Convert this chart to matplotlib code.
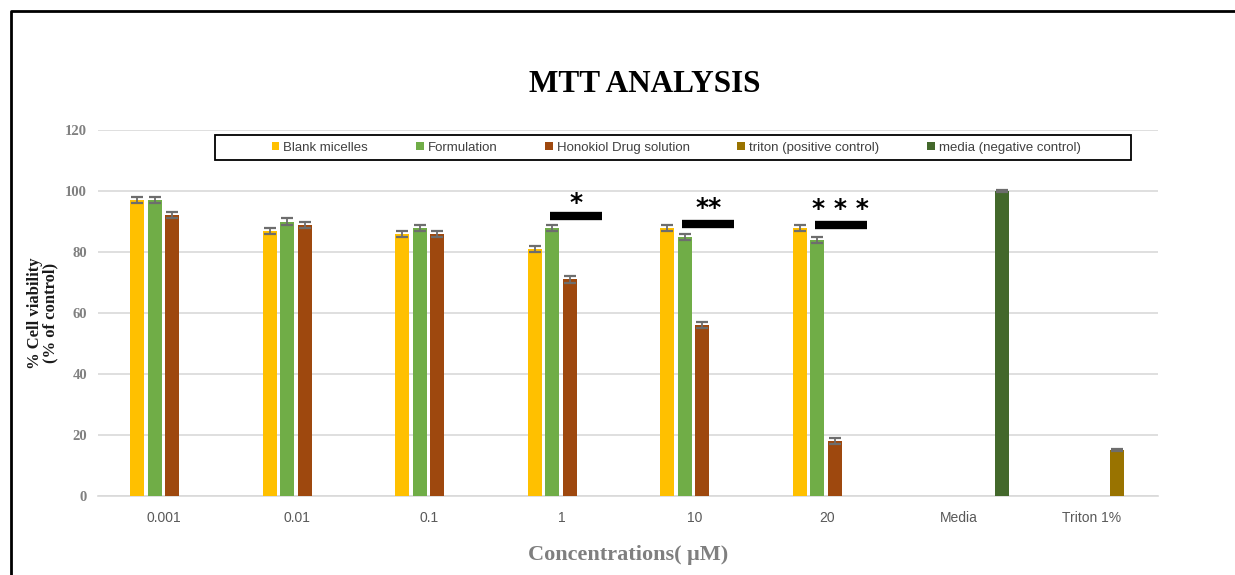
import numpy as np
import matplotlib.pyplot as plt
from matplotlib.patches import Patch, Rectangle
from matplotlib.lines import Line2D

# ===================== DADOS =====================
categorias = ['0.001', '0.01', '0.1', '1', '10', '20', 'Media', 'Triton 1%']

series = ['Blank micelles', 'Formulation', 'Honokiol Drug solution',
          'triton (positive control)', 'media (negative control)']
cores = ['#FFC000', '#70AD47', '#9E480E', '#997300', '#43682B']

blank    = [97, 87, 86, 81, 88, 88, np.nan, np.nan]
formul   = [97, 90, 88, 88, 85, 84, np.nan, np.nan]
honokiol = [92, 89, 86, 71, 56, 18, np.nan, np.nan]
triton   = [np.nan] * 7 + [15]
media    = [np.nan] * 6 + [100, np.nan]

err_blank    = [1, 1, 1, 1, 1, 1, 0, 0]
err_formul   = [1, 1, 1, 1, 1, 1, 0, 0]
err_honokiol = [1, 1, 1, 1, 1, 1, 0, 0]
err_triton   = [0] * 7 + [0.3]
err_media    = [0] * 6 + [0.3, 0]

valores = [blank, formul, honokiol, triton, media]
erros = [err_blank, err_formul, err_honokiol, err_triton, err_media]

# significancia: categoria, texto, altura da barra, altura do texto
sig_cat   = [3, 4, 5]
sig_txt   = ['*', '**', '* * *']
sig_barra = [91.8, 89.2, 88.9]
sig_y     = [96.0, 94.5, 94.0]

# ===================== FIGURA =====================
fig = plt.figure(figsize=(12.35, 5.75), dpi=100)
ax = fig.add_axes([0.0794, 0.1374, 0.8583, 0.6365])

x = np.arange(len(categorias))
larg = 0.106
passo = 0.132
desloc0 = -0.204

for i, (vals, errs) in enumerate(zip(valores, erros)):
    pos = x + desloc0 + i * passo
    ax.bar(pos, vals, width=larg, color=cores[i], edgecolor='none', zorder=3)
    ok = ~np.isnan(np.array(vals, dtype=float))
    ax.errorbar(pos[ok], np.array(vals)[ok], yerr=np.array(errs)[ok],
                fmt='none', ecolor='#6d6d6d', elinewidth=1.3,
                capsize=4, capthick=1.6, zorder=4)

# barras de significancia
for c, t, yb, yt in zip(sig_cat, sig_txt, sig_barra, sig_y):
    ax.plot([c - 0.09, c + 0.30], [yb, yb], color='black', lw=6,
            solid_capstyle='butt', zorder=5)
    ax.text(c + 0.105, yt, t, ha='center', va='center', fontsize=18,
            fontweight='bold', color='black', family='DejaVu Sans')

# ===================== EIXOS =====================
ax.set_xlim(-0.5, 7.5)
ax.set_ylim(0, 120)
ax.set_yticks(np.arange(0, 121, 20))
ax.set_xticks(x)
ax.set_xticklabels(categorias, fontsize=10, color='#595959',
                   family='Liberation Sans')
for lab in ax.get_yticklabels():
    lab.set_family('Liberation Serif')
    lab.set_fontweight('bold')
    lab.set_fontsize(10.5)
    lab.set_color('#808080')

ax.tick_params(axis='both', length=0)
ax.tick_params(axis='x', pad=11)
ax.tick_params(axis='y', pad=8)

ax.grid(axis='y', color='#d9d9d9', linewidth=1.2, zorder=0)
ax.set_axisbelow(True)
for s in ['top', 'right', 'left']:
    ax.spines[s].set_visible(False)
ax.spines['bottom'].set_color('#d9d9d9')
ax.spines['bottom'].set_linewidth(1.2)

ax.set_ylabel('% Cell viability\n(% of control)', family='Liberation Serif',
              fontweight='bold', fontsize=12, color='#1a1a1a', labelpad=5,
              linespacing=0.95)
ax.set_xlabel('Concentrations( μM)', family='Liberation Serif',
              fontweight='bold', fontsize=16, color='#7f7f7f', labelpad=14)

fig.text(0.522, 0.853, 'MTT ANALYSIS', ha='center', va='center',
         family='Liberation Serif', fontweight='bold', fontsize=22.5)

# ===================== LEGENDA =====================
handles = [Patch(facecolor=c, edgecolor='none') for c in cores]
fig.patches.append(Rectangle((215 / 1235, 1 - 160 / 575), 916 / 1235, 25 / 575,
                             transform=fig.transFigure, fill=False,
                             edgecolor='black', linewidth=1.3))
fig.legend(handles, series, ncol=5, loc='center',
           bbox_to_anchor=(676 / 1235, 1 - 147.5 / 575),
           frameon=False, handlelength=0.6, handleheight=0.6,
           handletextpad=0.3, columnspacing=3.6,
           prop={'family': 'Liberation Sans', 'size': 9.5},
           labelcolor='#404040')

# moldura (topo e esquerda)
fig.add_artist(Line2D([11 / 1235, 11 / 1235, 1.0], [0.0, 1 - 11 / 575, 1 - 11 / 575],
                      transform=fig.transFigure, color='black', linewidth=2))

fig.savefig('out.png', dpi=100)
